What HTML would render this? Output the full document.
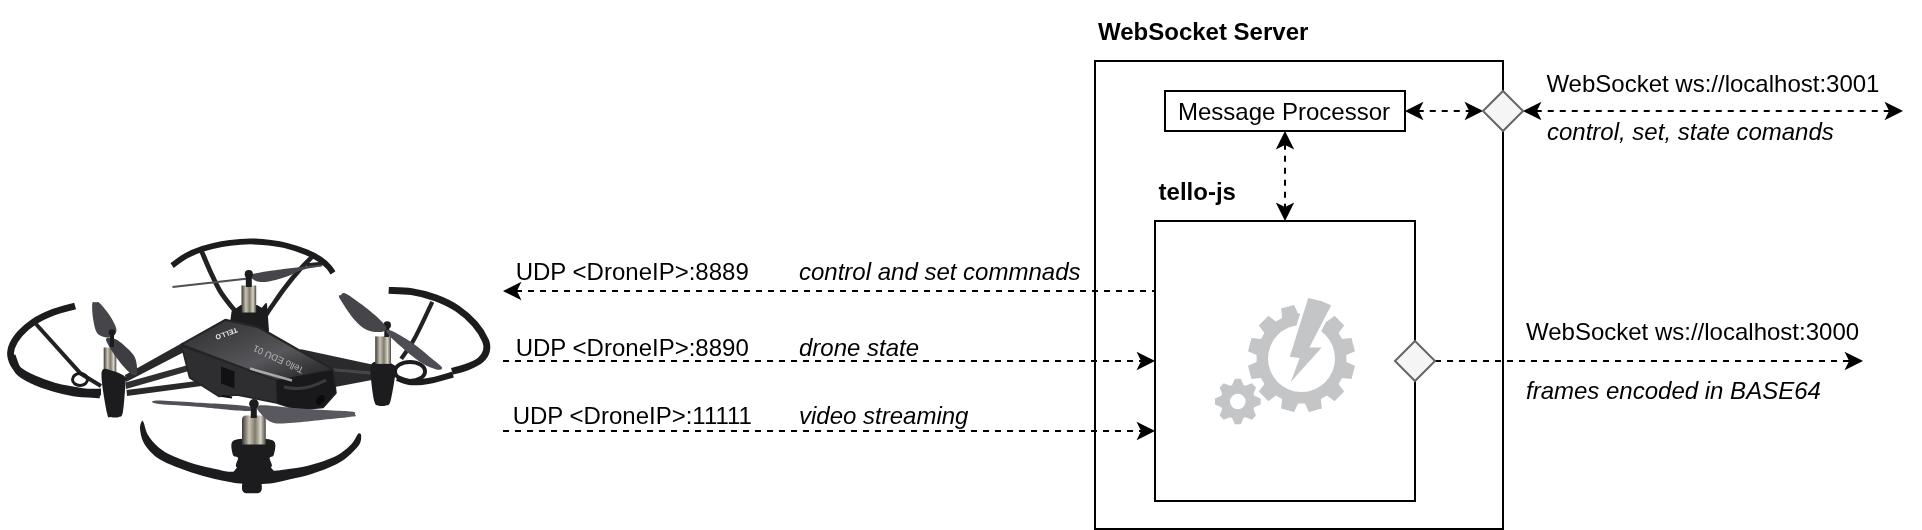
<!DOCTYPE html>
<html><head><meta charset="utf-8"><title>tello-js architecture</title>
<style>
html,body{margin:0;padding:0;background:#fff}
svg{display:block;will-change:transform}
text{font-family:"Liberation Sans",Arial,Helvetica,sans-serif;font-size:24px;fill:#000}
.b{font-weight:bold}
.i{font-style:italic}
.box{fill:#fff;stroke:#000;stroke-width:2}
.ln{fill:none;stroke:#000;stroke-width:2;stroke-dasharray:6 6}
.ah{fill:#000;stroke:#000;stroke-width:2;stroke-miterlimit:10}
.dm{fill:#f5f5f5;stroke:#666;stroke-width:2;stroke-miterlimit:10}
.gr{fill:#c4c5c7;fill-rule:evenodd}
</style></head><body>
<svg width="1922" height="530" viewBox="0 0 1922 530">
<rect width="1922" height="530" fill="#fff"/>
<defs><linearGradient id="mt" x1="0" x2="1" y1="0" y2="0"><stop offset="0" stop-color="#3c3933"/><stop offset=".3" stop-color="#c9c4b3"/><stop offset=".55" stop-color="#7f7a6c"/><stop offset=".78" stop-color="#d8d4c5"/><stop offset="1" stop-color="#4a463e"/></linearGradient><linearGradient id="tp" x1="0" x2="1" y1="0" y2="1"><stop offset="0" stop-color="#2e2e30"/><stop offset=".35" stop-color="#454548"/><stop offset=".6" stop-color="#57575b"/><stop offset=".8" stop-color="#3a3a3d"/><stop offset="1" stop-color="#222224"/></linearGradient></defs>
<g id="drone" fill="none" stroke-linejoin="round">
<path d="M172.1 265.5C174.4 263.9 181.1 258.6 186.2 255.8C191.3 253.0 196.8 250.8 202.7 248.8C208.6 246.9 215.3 245.3 221.6 244.1C227.9 242.9 235.0 242.2 240.5 241.8C246.0 241.4 249.9 241.3 254.6 241.5C259.3 241.7 263.3 241.9 268.8 242.7C274.3 243.4 281.3 244.4 287.6 246.0C293.9 247.6 301.1 250.1 306.5 252.3C311.9 254.6 316.4 257.0 320.2 259.5C324.0 262.0 327.1 265.1 329.2 267.4C331.3 269.6 332.3 272.1 332.9 273.0" stroke="#1c1c1e" stroke-width="5.8"/>
<path d="M201.5 251.0C203.1 254.7 207.9 266.3 211.0 273.0C214.1 279.7 216.7 285.5 220.0 291.0C223.3 296.5 227.9 302.1 231.0 306.0C234.1 309.9 237.2 313.1 238.5 314.5" stroke="#222224" stroke-width="4.8"/>
<path d="M312.0 257.0C309.7 259.4 302.7 266.3 298.0 271.6C293.3 276.9 288.3 283.3 284.0 289.0C279.7 294.7 275.0 301.7 272.0 306.0C269.0 310.3 267.0 313.5 266.0 315.0M307 265.5L322 264" stroke="#222224" stroke-width="4.6"/>
<path d="M172.5 287L246 278.7" stroke="#4e4e53" stroke-width="2"/>
<path d="M252.0 274.5C255.7 272.6 270.7 270.9 278.2 269.7C285.7 268.5 290.1 268.2 297.0 267.4C303.9 266.6 315.8 265.0 319.7 264.8C323.6 264.6 323.5 265.3 320.5 266.2C317.5 267.1 307.3 268.3 301.8 270.0C296.3 271.7 293.1 274.4 287.6 276.3C282.1 278.2 274.1 280.7 268.8 281.5C263.5 282.3 258.8 282.2 256.0 281.0C253.2 279.8 248.3 276.4 252.0 274.5Z" fill="#45454a"/>
<path d="M230.0 331.0L232.5 312.0L241.0 306.0L257.0 306.0L262.0 309.0L266.0 304.0L268.0 331.0Z" fill="#1c1c1e" stroke="#1c1c1e" stroke-width="2"/>
<rect x="241.5" y="285.5" width="14.7" height="27" fill="url(#mt)"/>
<path d="M248.8 287V275" stroke="#1c1c1e" stroke-width="6"/><circle cx="248.8" cy="274.2" r="4.1" fill="#1c1c1e"/>
<path d="M75.1 306.0C71.4 307.1 59.8 309.7 52.9 312.4C46.0 315.1 39.1 318.4 33.6 322.0C28.1 325.6 23.4 329.8 19.7 334.0C16.0 338.2 13.0 343.2 11.6 347.3C10.2 351.4 10.2 354.6 11.2 358.3C12.2 362.0 13.9 366.0 17.6 369.3C21.3 372.6 27.2 375.6 33.2 378.4C39.2 381.2 47.2 384.0 53.9 385.9C60.6 387.8 68.1 389.0 73.6 390.0C79.1 391.0 82.5 391.8 87.1 392.1C91.7 392.4 98.7 392.0 101.0 392.0" stroke="#1c1c1e" stroke-width="6.8"/>
<path d="M12.0 356.0C13.1 358.5 15.0 366.9 18.5 371.0C22.0 375.1 27.3 377.6 33.2 380.4C39.1 383.2 47.2 386.0 53.9 388.0C60.6 390.0 65.9 391.4 73.6 392.5C81.3 393.6 95.6 394.2 100.0 394.5" stroke="#1c1c1e" stroke-width="7.4"/>
<path d="M35.5 323.5L80.9 373.8L101 386" stroke="#222224" stroke-width="4"/>
<ellipse cx="80" cy="379.5" rx="7.5" ry="6" stroke="#1c1c1e" stroke-width="3"/>
<path d="M388.7 290.4C392.5 290.6 403.7 290.4 411.5 291.6C419.3 292.8 427.8 294.9 435.4 297.7C443.0 300.5 450.6 304.1 457.2 308.5C463.8 312.9 470.2 318.6 474.9 324.0C479.6 329.4 483.6 336.2 485.5 340.6C487.4 345.0 487.3 347.4 486.5 350.6C485.7 353.8 483.6 357.3 480.5 360.0C477.4 362.7 472.4 364.9 467.6 366.8C462.9 368.7 454.6 370.6 452.0 371.4" stroke="#1c1c1e" stroke-width="6.9"/>
<path d="M453.0 374.5C449.6 375.4 439.2 378.9 432.3 380.2C425.4 381.5 417.4 382.7 411.5 382.3C405.6 381.9 399.4 378.7 397.0 378.0" stroke="#1c1c1e" stroke-width="6"/>
<path d="M432.3 301.8C429.4 307.9 419.9 328.7 414.7 338.2C409.5 347.7 403.4 355.4 401.2 358.9" stroke="#222224" stroke-width="4.2"/>
<ellipse cx="410" cy="371.4" rx="15" ry="9.5" stroke="#1c1c1e" stroke-width="4"/>
<path d="M125.0 375.0L183.0 342.5L188.0 350.0L126.0 382.0Z" fill="#29292b"/>
<path d="M125.5 382.5L215.0 357.5L215.0 363.5L126.0 389.0Z" fill="#2f2f32"/>
<path d="M126.5 390.0L224.0 377.5L224.0 383.0L127.0 396.0Z" fill="#29292b"/>
<path d="M300.0 349.0L372.0 364.5L372.0 380.0L335.0 387.0L320.0 386.0Z" fill="#2a2a2d"/>
<path d="M330 369.5L371 373" stroke="#47474b" stroke-width="3"/>
<rect x="103.7" y="347.5" width="12.6" height="27" fill="url(#mt)"/>
<path d="M101.6 372.5C102.6 365.5 109.0 370.2 113.0 371.0C117.0 371.8 123.4 375.0 125.5 377.0C127.6 379.0 125.9 377.2 125.5 383.0C125.1 388.8 124.0 406.3 122.9 412.0C121.8 417.7 121.0 416.2 119.0 417.0C117.0 417.8 113.0 417.7 111.0 417.0C109.0 416.3 108.6 420.4 107.0 413.0C105.4 405.6 100.6 379.5 101.6 372.5Z" fill="#1c1c1e"/>
<path d="M92.3 303.6C92.8 300.7 94.8 302.4 96.0 302.3C97.2 302.2 97.5 301.0 99.8 303.2C102.1 305.4 107.2 311.5 109.9 315.7C112.6 319.9 115.4 325.1 116.2 328.2C117.0 331.3 116.0 332.9 114.6 334.5C113.2 336.1 110.8 337.7 107.9 337.5C105.1 337.3 99.9 336.3 97.5 333.4C95.1 330.5 94.2 324.9 93.3 319.9C92.4 314.9 91.8 306.5 92.3 303.6Z" fill="#45454a"/>
<path d="M106.0 339.5C105.8 336.5 111.9 337.9 115.0 339.0C118.1 340.1 121.2 342.8 124.5 345.8C127.8 348.8 132.7 352.9 134.8 357.2C136.9 361.5 137.2 368.7 137.2 371.7C137.2 374.7 136.2 375.2 134.8 375.2C133.4 375.2 131.7 374.7 128.6 371.7C125.5 368.7 120.0 362.6 116.2 357.2C112.4 351.8 106.2 342.5 106.0 339.5Z" fill="#3d3d42"/>
<circle cx="112" cy="332.6" r="3.3" fill="#1c1c1e"/><path d="M112 334V347" stroke="#1c1c1e" stroke-width="4"/>
<path d="M371.5 364.0C373.5 361.2 379.0 360.7 383.0 361.0C387.0 361.3 393.2 364.0 395.3 366.0C397.4 368.0 396.3 367.2 395.5 373.0C394.7 378.8 392.1 395.6 390.5 401.0C388.9 406.4 388.1 404.8 386.0 405.5C383.9 406.2 380.0 406.2 378.0 405.5C376.0 404.8 375.4 405.6 374.2 401.0C373.0 396.4 371.4 384.2 371.0 378.0C370.6 371.8 369.5 366.8 371.5 364.0Z" fill="#1c1c1e"/>
<rect x="375.2" y="336.4" width="15.8" height="27.5" fill="url(#mt)"/>
<path d="M386.8 337V326" stroke="#1c1c1e" stroke-width="5"/><circle cx="387.2" cy="325" r="3.8" fill="#1c1c1e"/>
<path d="M346.4 293.9C350.8 296.2 361.2 303.8 367.6 309.0C374.0 314.2 382.2 321.2 384.8 325.0C387.4 328.8 386.3 330.6 383.4 331.5C380.5 332.4 372.4 332.2 367.6 330.2C362.8 328.2 359.0 325.0 354.4 319.7C349.8 314.4 342.0 302.6 339.8 298.5C337.6 294.4 339.9 295.8 341.0 295.0C342.1 294.2 342.0 291.6 346.4 293.9Z" fill="#45454a"/>
<path d="M390.8 330.4C394.9 331.9 404.6 337.6 411.5 342.3C418.4 347.1 427.2 354.7 432.3 358.9C437.4 363.1 441.3 365.6 442.0 367.4C442.7 369.2 439.9 370.2 436.5 369.5C433.1 368.8 427.4 366.6 421.9 363.1C416.3 359.6 409.0 353.5 403.2 348.5C397.4 343.5 389.1 336.0 387.0 333.0C384.9 330.0 386.7 328.8 390.8 330.4Z" fill="#4d4d53"/>
<path d="M181.7 344.5L225.3 320.0L258.3 327.0L332.5 369.5L335.5 393.0L323.0 407.0L298.0 409.5L276.8 402.5L237.0 394.5L219.0 396.0L190.0 377.5Z" fill="#242426" stroke="#242426" stroke-width="2.5"/>
<path d="M182.5 347.0L277.0 381.5L277.0 402.0L237.0 394.0L219.0 395.5L190.5 377.0Z" fill="#2e2e31"/>
<path d="M221.0 366.5L234.5 371.5L234.5 388.5L221.0 383.5Z" fill="#111113"/>
<path d="M222 396L232 397.5" stroke="#0e0e10" stroke-width="2"/>
<path d="M277.0 381.0L331.5 371.0L335.0 392.0L323.0 406.5L298.0 409.0L277.5 402.0Z" fill="#19191b" stroke="#19191b" stroke-width="1.5"/>
<path d="M284 387Q305 392 326 380" stroke="#3c3c40" stroke-width="3"/>
<ellipse cx="320.5" cy="400" rx="3.6" ry="5.6" fill="#0a0a0c" transform="rotate(35 320.5 400)"/>
<path d="M183.5 344.2L225.5 321.0L258.0 328.2L331.0 369.6L277.0 379.8Z" fill="url(#tp)"/>
<path d="M250 368.5L292 380.5" stroke="#cfcfd3" stroke-width="2.4" opacity=".75"/>
<text transform="translate(236.4 327.6) rotate(160)" font-weight="bold" style="fill:#ececee;font-size:7px">TELLO</text>
<text transform="translate(304.5 368) rotate(205)" style="fill:#c4c4c8;font-size:9.4px" fill-opacity=".85">Tello EDU 01</text>
<path d="M141.8 421.3C141.2 422.2 139.8 425.2 140.0 428.6C140.2 432.0 141.2 437.6 143.2 441.8C145.2 446.0 148.9 450.4 152.2 453.6C155.5 456.8 158.1 458.5 162.8 461.0C167.5 463.5 173.9 466.0 180.6 468.5C187.3 471.0 195.7 473.9 203.2 476.0C210.7 478.1 219.6 479.9 225.7 481.2C231.8 482.4 235.6 483.0 240.0 483.5C244.4 484.0 247.0 484.3 252.0 484.3C257.0 484.3 264.5 484.1 270.0 483.5C275.5 482.9 278.8 481.9 285.0 480.5C291.2 479.1 300.2 477.4 307.5 475.3C314.8 473.2 322.8 470.2 328.5 467.8C334.2 465.4 338.0 463.6 342.0 461.0C346.0 458.4 349.5 455.1 352.5 452.2C355.5 449.3 358.4 446.2 359.9 443.4C361.3 440.6 361.2 437.3 361.2 435.6C361.2 433.9 360.4 433.6 359.8 433.4C359.2 433.2 358.9 432.7 357.6 434.4C356.3 436.1 354.7 440.4 352.0 443.5C349.3 446.6 345.4 450.0 341.4 452.7C337.3 455.4 333.3 457.4 327.7 459.6C322.1 461.8 315.1 464.1 308.0 465.7C300.9 467.3 291.5 468.6 285.2 469.5C278.9 470.4 278.9 470.6 270.0 471.0C261.1 471.4 240.4 472.1 231.7 471.8C223.0 471.6 224.1 470.8 218.0 469.5C211.9 468.2 202.5 466.3 195.2 464.2C187.9 462.1 180.1 459.4 174.0 456.6C167.9 453.8 163.0 451.0 158.7 447.4C154.4 443.8 150.5 439.1 148.0 435.0C145.5 430.9 144.8 425.3 143.8 423.0C142.8 420.7 142.4 420.4 141.8 421.3Z" fill="#1c1c1e"/>
<path d="M231.0 475.0L239.0 465.0L269.0 465.0L277.0 475.0Z" fill="#1c1c1e"/>
<rect x="242" y="481" width="19.8" height="12.2" rx="4.5" fill="#1c1c1e"/>
<path d="M233.0 441.0C236.3 438.2 246.2 438.5 253.0 438.5C259.8 438.5 270.2 438.2 273.7 441.0C277.1 443.8 274.4 452.2 273.7 455.0C273.0 457.8 270.4 455.8 269.7 458.0C269.0 460.2 275.0 466.3 269.7 468.0C264.4 469.7 243.3 469.7 238.0 468.0C232.7 466.3 238.8 460.2 238.0 458.0C237.2 455.8 233.8 457.8 233.0 455.0C232.2 452.2 229.7 443.8 233.0 441.0Z" fill="#1c1c1e"/>
<path d="M242 444.5V420Q242 415.5 246 415.5H261.8Q265.8 415.5 265.8 420V444.5Z" fill="url(#mt)"/>
<path d="M156.5 400.6C162.7 400.4 179.5 401.6 194.4 402.5C209.3 403.4 237.2 404.5 246.0 405.9C254.8 407.3 255.6 410.9 247.0 411.0C238.4 411.1 209.4 407.7 194.4 406.5C179.4 405.3 163.3 404.8 157.0 403.8C150.7 402.8 150.3 400.8 156.5 400.6Z" fill="#505056"/>
<path d="M258.8 405.6C264.1 404.5 281.1 407.1 293.5 407.9C305.9 408.7 323.2 409.9 333.1 410.5C343.0 411.1 349.4 411.1 353.0 411.8C356.6 412.5 354.8 413.8 354.8 414.6C354.8 415.4 358.3 415.7 353.0 416.6C347.7 417.5 333.1 418.8 323.2 419.8C313.3 420.8 301.8 422.2 293.5 422.7C285.2 423.2 279.0 424.2 273.7 422.9C268.4 421.6 264.3 417.7 261.8 414.8C259.3 411.9 253.5 406.8 258.8 405.6Z" fill="#58585e"/>
<path d="M253.8 418V404" stroke="#1c1c1e" stroke-width="6"/><circle cx="253.9" cy="403.8" r="4.8" fill="#1c1c1e"/>
</g>
<rect class="box" x="1095" y="61" width="408" height="468"/>
<rect class="box" x="1165" y="91" width="240" height="40"/>
<rect class="box" x="1155" y="221" width="260" height="280"/>
<text class="b" x="1098" y="40">WebSocket Server</text>
<text class="b" x="1158.6" y="199.5">tello-js</text>
<text x="1284" y="119.5" text-anchor="middle">Message Processor</text>
<text x="1546.4" y="92">WebSocket ws://localhost:3001</text>
<text class="i" x="1547" y="140">control, set, state comands</text>
<text x="1526" y="339.5">WebSocket ws://localhost:3000</text>
<text class="i" x="1526" y="399">frames encoded in BASE64</text>
<text x="515.7" y="280">UDP &lt;DroneIP&gt;:8889</text>
<text class="i" x="799" y="280">control and set commnads</text>
<text x="515.7" y="355.5">UDP &lt;DroneIP&gt;:8890</text>
<text class="i" x="799" y="355.5">drone state</text>
<text x="512.7" y="423.5">UDP &lt;DroneIP&gt;:11111</text>
<text class="i" x="799" y="423.5">video streaming</text>
<path class="ln" stroke-dashoffset="3" d="M1155 291H515.74"/><path class="ah" transform="translate(503,291) rotate(180)" d="M-2.24 0L-16.24 -7L-12.74 0L-16.24 7Z"/>
<path class="ln" d="M503 361H1142.26"/><path class="ah" transform="translate(1155,361) rotate(0)" d="M-2.24 0L-16.24 -7L-12.74 0L-16.24 7Z"/>
<path class="ln" d="M503 431H1142.26"/><path class="ah" transform="translate(1155,431) rotate(0)" d="M-2.24 0L-16.24 -7L-12.74 0L-16.24 7Z"/>
<path class="ln" d="M1285 143.74V208.26"/><path class="ah" transform="translate(1285,131) rotate(-90)" d="M-2.24 0L-16.24 -7L-12.74 0L-16.24 7Z"/><path class="ah" transform="translate(1285,221) rotate(90)" d="M-2.24 0L-16.24 -7L-12.74 0L-16.24 7Z"/>
<path class="ln" d="M1417.74 111H1470.26"/><path class="ah" transform="translate(1405,111) rotate(180)" d="M-2.24 0L-16.24 -7L-12.74 0L-16.24 7Z"/><path class="ah" transform="translate(1483,111) rotate(0)" d="M-2.24 0L-16.24 -7L-12.74 0L-16.24 7Z"/>
<path class="ln" d="M1535.74 111H1890.26"/><path class="ah" transform="translate(1523,111) rotate(180)" d="M-2.24 0L-16.24 -7L-12.74 0L-16.24 7Z"/><path class="ah" transform="translate(1903,111) rotate(0)" d="M-2.24 0L-16.24 -7L-12.74 0L-16.24 7Z"/>
<path class="ln" d="M1435 361H1850.26"/><path class="ah" transform="translate(1863,361) rotate(0)" d="M-2.24 0L-16.24 -7L-12.74 0L-16.24 7Z"/>
<path class="dm" d="M1503 91L1523 111L1503 131L1483 111Z"/>
<path class="dm" d="M1415 341L1435 361L1415 381L1395 361Z"/>
<path class="gr" d="M1346.4 362.0L1355.0 365.8L1351.5 378.9L1342.1 377.9L1338.6 384.0L1344.2 391.6L1334.6 401.2L1327.0 395.6L1320.9 399.1L1321.9 408.5L1308.8 412.0L1305.0 403.4L1298.0 403.4L1294.2 412.0L1281.1 408.5L1282.1 399.1L1276.0 395.6L1268.4 401.2L1258.8 391.6L1264.4 384.0L1260.9 377.9L1251.5 378.9L1248.0 365.8L1256.6 362.0L1256.6 355.0L1248.0 351.2L1251.5 338.1L1260.9 339.1L1264.4 333.0L1258.8 325.4L1268.4 315.8L1276.0 321.4L1282.1 317.9L1281.1 308.5L1294.2 305.0L1298.0 313.6L1305.0 313.6L1308.8 305.0L1321.9 308.5L1320.9 317.9L1327.0 321.4L1334.6 315.8L1344.2 325.4L1338.6 333.0L1342.1 339.1L1351.5 338.1L1355.0 351.2L1346.4 355.0ZM1268.0 358.5a33.5 33.5 0 1 0 67.0 0a33.5 33.5 0 1 0 -67.0 0Z"/>
<path class="gr" d="M1254.3 395.8L1260.6 398.5L1260.6 404.5L1254.3 407.2L1253.5 409.2L1256.0 415.5L1251.8 419.7L1245.5 417.2L1243.5 418.0L1240.8 424.3L1234.8 424.3L1232.1 418.0L1230.1 417.2L1223.8 419.7L1219.6 415.5L1222.1 409.2L1221.3 407.2L1215.0 404.5L1215.0 398.5L1221.3 395.8L1222.1 393.8L1219.6 387.5L1223.8 383.3L1230.1 385.8L1232.1 385.0L1234.8 378.7L1240.8 378.7L1243.5 385.0L1245.5 385.8L1251.8 383.3L1256.0 387.5L1253.5 393.8ZM1230.0 401.5a7.8 7.8 0 1 0 15.6 0a7.8 7.8 0 1 0 -15.6 0Z"/>
<path d="M1308.2 298.1Q1320 300 1331.2 305.2L1309.4 347.6H1321.7L1290.8 382L1299.6 357.9L1289.8 356.7Z" fill="#c4c5c7" stroke="#fff" stroke-width="6" paint-order="stroke"/>
</svg>
</body></html>
